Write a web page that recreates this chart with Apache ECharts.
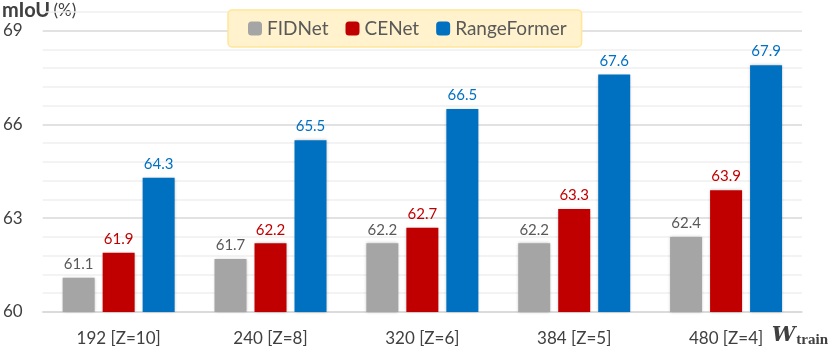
<!DOCTYPE html>
<html>
<head>
<meta charset="utf-8">
<script src="https://cdn.jsdelivr.net/npm/echarts@6/dist/echarts.min.js"></script>
<style>
  html, body { margin: 0; padding: 0; background: #fff; }
  #chart { width: 830px; height: 350px; }
</style>
</head>
<body>
<div id="chart"></div>
<script>
const categories = ['192 [Z=10]', '240 [Z=8]', '320 [Z=6]', '384 [Z=5]', '480 [Z=4]'];
const fidnet = [61.1, 61.7, 62.2, 62.2, 62.4];
const cenet = [61.9, 62.2, 62.7, 63.3, 63.9];
const rangeformer = [64.3, 65.5, 66.5, 67.6, 67.9];
const yTicks = [60, 63, 66, 69];

const font = 'Lato, "Open Sans", sans-serif';
const chart = echarts.init(document.getElementById('chart'));

function barSeries(name, data, color, labelColor) {
  return {
    name: name,
    type: 'bar',
    data: data,
    barWidth: 32,
    barGap: '25%',
    itemStyle: {
      color: color,
      shadowColor: 'rgba(0,0,0,0.25)',
      shadowBlur: 3
    },
    label: {
      show: true,
      position: 'top',
      distance: 6,
      color: labelColor,
      fontFamily: font,
      fontSize: 15
    }
  };
}

chart.setOption({
  animation: false,
  textStyle: { fontFamily: font },
  grid: { left: 42, right: 28, top: 12, bottom: 38 },
  legend: {
    top: 10,
    left: 228,
    padding: [9, 15, 9, 20],
    itemWidth: 14,
    itemHeight: 14,
    itemGap: 17,
    backgroundColor: '#fff2cc',
    borderColor: '#ffe699',
    borderWidth: 1.5,
    borderRadius: 4,
    textStyle: { fontSize: 19, color: '#595959', fontFamily: font },
    data: ['FIDNet', 'CENet', 'RangeFormer']
  },
  xAxis: {
    type: 'category',
    data: categories,
    axisTick: { show: false },
    axisLine: { lineStyle: { color: '#d9d9d9', width: 1.5 } },
    axisLabel: { color: '#404040', fontSize: 17, margin: 18, fontFamily: font }
  },
  yAxis: {
    type: 'value',
    min: 60,
    max: 69.6,
    interval: 0.6,
    axisLine: { show: false },
    axisTick: { show: false },
    axisLabel: {
      color: '#404040',
      fontSize: 17,
      margin: 20,
      fontFamily: font,
      formatter: function (v) {
        const r = Math.round(v * 10) / 10;
        return yTicks.indexOf(r) >= 0 ? String(r) : '';
      }
    },
    splitLine: {
      lineStyle: {
        color: ['#d9d9d9', '#efefef', '#efefef', '#efefef', '#efefef'],
        width: 1.5
      }
    }
  },
  graphic: [
    {
      type: 'text',
      left: 2,
      top: 1,
      style: {
        text: '{b|mIoU} {n|(%)}',
        rich: {
          b: { fontSize: 20, fontWeight: 'bold', fill: '#404040', fontFamily: font },
          n: { fontSize: 17, fill: '#404040', fontFamily: font }
        }
      }
    },
    {
      type: 'text',
      right: 2,
      top: 325,
      style: {
        text: '{w|W}{s|train}',
        rich: {
          w: { fontSize: 21, fontWeight: 'bold', fontStyle: 'italic', fill: '#404040', fontFamily: '"DejaVu Serif", serif' },
          s: { fontSize: 15, fontWeight: 'bold', fill: '#404040', fontFamily: '"Liberation Serif", serif', padding: [10, 0, 0, 1] }
        }
      }
    }
  ],
  series: [
    barSeries('FIDNet', fidnet, '#a5a5a5', '#595959'),
    barSeries('CENet', cenet, '#c00000', '#c00000'),
    barSeries('RangeFormer', rangeformer, '#0070c0', '#0070c0')
  ]
});
</script>
</body>
</html>
